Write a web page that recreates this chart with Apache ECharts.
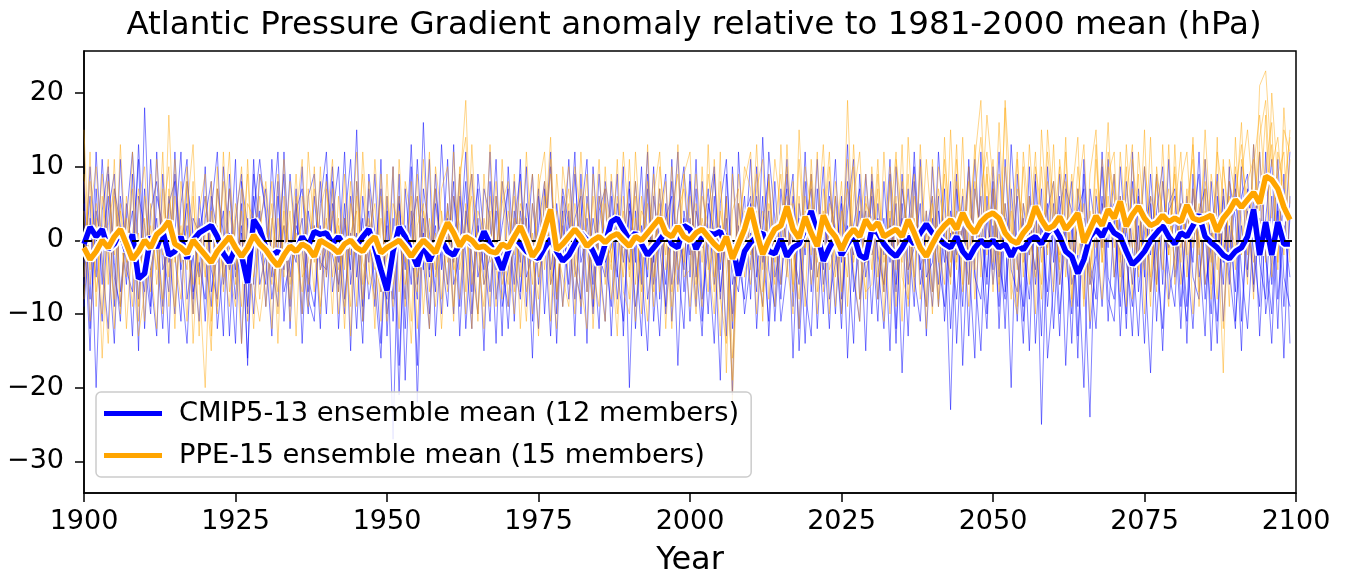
<!DOCTYPE html>
<html>
<head>
<meta charset="utf-8">
<script src="https://cdn.jsdelivr.net/npm/echarts@6/dist/echarts.min.js"></script>
<style>html,body{margin:0;padding:0;background:#fff}#c{width:1345px;height:577px}</style>
</head>
<body>
<div id="c"></div>
<script>
const START_YEAR = 1900;
const xTicks = [1900, 1925, 1950, 1975, 2000, 2025, 2050, 2075, 2100];
const yTicks = [-30, -20, -10, 0, 10, 20];

const cmipMean = [
-0.5,1.8,0.5,1.5,-1.2,-0.5,1.2,-1.5,0.8,-5.2,
-4.5,0.5,-1.0,1.2,-2.0,-1.5,0.5,-2.5,0.0,1.0,
1.5,2.0,0.5,-1.8,-3.0,-1.0,-2.0,-5.8,2.8,1.5,
-1.0,-2.0,-1.5,-2.5,-0.5,-1.5,0.5,-0.8,1.2,0.8,
1.0,-0.5,0.5,-0.8,0.2,-0.7,0.5,1.5,-1.0,-4.0,
-6.8,-1.5,1.8,0.5,-1.5,-3.5,-0.5,-2.8,-1.0,0.0,
-1.5,-2.0,-0.5,0.5,-0.5,-1.0,1.2,-0.5,-2.0,-4.0,
-1.5,0.5,-0.5,-1.5,-2.0,-2.5,-1.0,0.2,-1.5,-2.8,
-2.0,-0.5,1.0,0.0,-1.5,-3.3,-0.5,2.5,3.0,1.5,
0.0,1.0,-0.5,-2.0,-1.0,0.0,1.2,-0.5,-1.0,2.0,
1.5,-1.2,0.5,1.0,0.8,1.2,-1.0,-0.5,-4.8,-1.5,
-0.3,0.5,1.0,-1.5,-1.8,0.2,-2.2,-1.0,-0.5,1.5,
4.0,1.0,-2.8,-1.0,0.5,-2.0,-0.5,0.8,-2.0,-2.5,
1.5,1.0,-0.5,-1.5,-2.2,-1.0,0.5,-0.5,1.0,2.2,
1.0,0.3,-0.5,-1.0,0.5,-1.5,-2.5,-1.0,0.0,-0.8,
0.0,-1.0,-0.5,-2.2,-0.5,-1.3,0.0,0.5,-0.5,1.0,
1.9,0.5,-1.5,-2.2,-4.5,-2.6,0.5,1.5,0.5,2.3,
1.0,0.5,-1.5,-3.3,-2.5,-1.5,0.0,1.0,2.0,0.5,
-0.5,1.0,0.5,2.0,3.5,0.5,-0.3,-1.0,-2.0,-2.5,
-1.5,-1.0,0.5,4.2,-2.0,2.5,-2.0,2.5,-0.5,-0.5
];
const ppeMean = [
-1.0,-2.6,-1.5,0.0,-1.0,0.5,1.5,-0.5,-2.6,-1.5,
0.0,-1.0,0.8,1.5,2.6,-0.5,-1.0,-1.8,0.0,-1.0,
-2.0,-3.0,-1.5,-0.5,0.5,-1.0,-2.2,-1.0,0.7,-0.5,
-1.3,-2.5,-3.5,-2.0,-0.8,-1.5,-0.5,-1.0,-2.2,0.0,
-0.5,-1.0,-1.7,-0.5,0.0,-1.0,-1.5,-0.3,0.5,-1.7,
-1.0,-0.5,0.0,-1.0,-2.2,-1.0,0.0,-0.8,-1.7,0.5,
2.4,1.0,-0.8,0.5,0.0,-1.0,-0.8,-1.5,-1.7,-0.5,
-1.0,0.5,1.9,0.0,-2.2,-1.0,1.5,4.2,-1.3,-0.5,
0.5,1.5,0.5,-0.8,0.0,0.5,-0.3,0.5,0.9,0.0,
-0.8,0.5,0.0,1.0,2.0,3.0,1.0,0.5,1.9,0.5,
0.0,1.0,1.5,0.5,-0.5,-1.3,0.5,-2.5,-0.5,1.5,
4.4,1.0,-1.9,0.0,1.5,2.0,4.6,1.5,0.3,3.2,
1.0,-0.8,3.4,1.5,0.5,-1.3,0.5,1.5,0.5,2.8,
1.5,2.4,0.5,1.0,1.5,0.5,2.8,1.0,-1.0,-2.2,
-0.5,1.0,2.0,2.8,1.5,3.7,2.0,1.0,2.5,3.3,
3.7,3.0,1.0,0.0,-0.4,1.0,2.0,4.6,2.8,1.5,
2.0,3.2,1.5,2.5,3.7,-0.3,1.5,3.3,2.0,4.2,
3.0,5.3,1.9,3.5,4.6,3.0,2.0,2.4,3.4,2.5,
3.0,2.5,4.8,3.0,2.7,3.0,3.4,1.2,3.0,4.0,
5.5,4.5,5.5,6.5,5.0,8.7,8.2,7.0,4.5,2.8
];

const cmipMember1 = [
5,-8,12,-3,-12,7,2,-6,9,-15, 18,-4,3,-9,6,-2,-11,8,1,-5,
10,-7,-2,4,-13,3,9,-10,6,-1, -6,11,-3,2,-9,7,-14,4,-2,8,
-5,3,10,-8,1,-12,6,-3,9,-7, 2,-27,5,-4,13,-6,1,-10,7,-2,
-9,6,-1,12,-7,3,-15,8,-4,2, 7,-11,4,-2,9,-6,1,-13,5,-3,
11,-4,-8,6,-1,-12,8,2,-5,10, -20,4,-6,9,-3,7,-10,1,12,-7,
3,-9,8,-2,-14,5,11,-6,-1,6, -8,10,-3,4,-11,2,7,-16,5,-2,
9,-5,1,-12,6,-3,13,-7,-1,4, -10,5,-2,11,-6,3,-13,8,-4,1,
6,-9,2,-23,7,-1,10,-5,-8,3, -4,12,-7,1,-11,5,-2,9,-25,4,
8,-6,2,-14,7,-3,-24,6,-1,11, -5,3,-12,8,-2,10,-7,1,-15,5,
7,-9,4,-3,12,-6,-1,9,-11,2, -7,10,-4,6,-13,3,11,-8,2,-5
];
const cmipMember2 = [
-3,6,-20,4,10,-5,-9,3,12,-2, -7,11,-1,-12,5,8,-4,2,-10,6,
-2,-9,7,1,-4,11,-14,3,-6,9, 4,-5,8,-11,0,-3,10,-7,2,-12,
9,-2,-6,5,-15,8,-1,4,-9,11, -13,3,-21,7,-2,-8,16,-4,2,-10,
5,-3,9,-12,1,7,-6,-2,11,-9, -4,8,-7,3,-16,6,-1,10,-8,2,
-6,9,-3,1,-10,4,7,-13,3,-1, 8,-12,2,-5,10,-8,3,6,-17,4,
-2,7,-11,5,1,-19,9,-4,-7,3, 6,-12,2,9,-5,-1,11,-9,3,-14,
4,-2,10,-8,-3,6,-16,2,7,-5, 1,-11,8,-3,5,-18,2,10,-6,-1,
-9,4,-3,8,-14,2,-6,11,-2,-12, 7,-5,3,-20,9,-1,-8,4,-13,10,
-3,6,-17,2,-9,11,-4,-12,5,-1, 9,-13,2,-6,7,-3,-18,4,10,-8,
-2,5,-14,9,-5,1,-10,6,-3,8, 3,-15,7,-1,-9,12,-6,4,-16,6
];
const cmipMember3 = [
8,-12,4,-1,6,-9,11,-4,-7,13, -3,-10,6,2,-14,9,-1,5,-8,3,
-11,4,12,-6,1,-8,5,-17,9,2, 7,-3,-9,12,-5,2,-1,-10,6,-4,
-1,10,-7,3,-4,15,-11,2,-6,-16, 4,-8,9,-19,2,6,-4,11,-13,1,
-6,13,-9,4,-2,-10,7,3,-14,8, 2,-6,11,-9,5,-3,-1,12,-10,4,
-8,3,6,-14,10,-2,-5,8,-4,-11, 5,-1,-13,7,-6,3,9,-11,2,-4,
9,-5,2,-10,6,-8,3,-21,12,-3, 1,-7,14,-4,-9,7,-2,3,-12,8,
-4,11,-6,2,-10,5,-1,-14,9,-3, 6,-8,3,-15,10,-2,7,-5,-11,4,
-7,12,-1,-5,9,-17,3,-2,6,-10, 2,-9,11,-4,-7,3,-15,8,-1,5,
-12,4,9,-6,-2,-20,7,1,-9,3, 5,-2,-10,12,-7,1,6,-11,3,-4,
-9,8,-2,-12,4,7,-15,3,-6,10, -11,2,-5,13,-3,-8,6,-12,9,-14
];
const cmipMember4 = [
-9,3,-5,11,-2,-14,6,-1,4,-8, 7,-5,-13,9,-3,1,12,-8,-2,-11,
3,8,-12,-3,7,-5,1,-9,11,-6, -2,-13,6,-4,9,-1,3,-8,-11,5,
12,-7,-1,-10,6,-2,-14,9,1,-5, -8,10,-17,2,-6,11,-3,-12,5,-1,
3,-10,6,-2,-12,9,1,-7,4,-13, 10,-3,-8,5,-1,-12,7,-4,2,-9,
4,-13,9,-7,3,-2,-11,6,-8,1, -3,8,-4,-15,6,-1,-9,11,-6,3,
-11,4,-1,7,-6,2,-13,10,-3,-8, 5,-2,-9,12,3,-11,-4,6,-1,-7,
-13,7,-4,8,-1,-10,4,11,-8,-2, 8,-3,-12,2,-7,9,-4,-1,5,-13,
3,-6,7,-12,2,-9,11,-4,-15,6, -6,3,-12,7,-3,-9,10,-14,2,-7,
5,-10,1,8,-13,3,-6,-2,10,-8, -11,6,-3,-9,2,-14,5,-6,8,-1,
3,-12,6,-5,-8,11,-2,-11,4,-6, 7,-4,-12,2,8,-10,-3,11,-5,-9
];
const cmipMember5 = [
2,-15,7,-6,9,-3,-11,5,-2,11, -12,4,8,-1,-7,12,-5,-14,3,1,
6,-4,-8,10,-1,-14,8,2,-10,4, -9,2,12,-7,-3,5,-10,6,9,-3,
-4,8,-12,2,11,-5,3,-8,-2,7, -10,-3,6,-12,4,-17,7,1,-7,13,
-2,8,-13,3,9,-5,-1,-11,6,-4, -9,4,-3,10,-11,2,8,-6,-2,7,
2,-8,3,11,-9,6,-3,-1,9,-13, 7,-3,10,-8,-2,-13,5,-6,4,10,
-5,11,-8,-1,9,-4,6,-12,2,-10, -3,6,-1,-11,8,-6,3,9,-15,2,
7,-12,3,-2,11,-8,2,-5,-11,9, -2,3,-7,9,-12,5,-6,12,-3,-9,
10,-3,-9,4,-2,6,-13,7,1,-5, 8,-12,5,-2,6,-11,1,-4,7,-16,
-6,9,-2,-10,4,7,-12,-3,6,-11, 3,-9,8,-1,-13,4,-2,9,-6,11,
-5,2,-9,7,-1,-13,8,-2,6,-4, -12,6,9,-7,3,-2,-10,7,-1,12
];
const cmipMember6 = [
-6,10,-2,-11,4,9,-7,1,-13,6, 2,-9,12,-4,-1,-10,5,11,-7,-3,
-8,6,1,-13,9,-4,2,-16,4,11, 3,-8,-1,9,-12,4,7,-5,-9,2,
-10,5,-3,12,-6,1,-9,7,-2,-14, 6,-11,2,-8,10,-22,3,-5,9,-4,
11,-6,-2,8,-10,2,-4,12,-8,-1, -12,2,9,-5,-2,7,-10,4,-14,6,
-1,12,-10,3,-6,9,-2,-9,5,-3, 4,-9,-2,12,-11,1,-6,8,-3,-12,
8,-3,-13,4,10,-7,1,-10,5,-2, 11,-5,6,-13,2,-8,9,-1,-6,12,
-7,3,-10,6,1,-12,8,-2,4,-15, 9,-2,-6,3,-14,7,1,-9,11,-5,
-3,6,-11,1,-8,4,-2,-16,12,-6, 10,-3,-8,13,-1,-14,6,-6,3,-9,
2,-13,7,4,-16,9,-3,-8,12,-5, -8,10,-1,-13,6,-5,9,-2,-12,4,
6,-4,-11,3,9,-8,1,-14,7,-3, 9,-11,4,-6,12,-2,-14,5,-9,3
];

const ppeMember1 = [
15,-6,3,-10,8,-2,5,-12,1,7, -4,9,-1,-8,17,-3,2,-11,6,-5,
-20,4,-3,8,-7,2,10,-5,-1,6, -9,3,-2,11,-6,1,-10,7,-3,4,
8,-5,2,-12,5,-1,9,-4,-8,3, -3,10,-7,1,-11,6,-2,12,-5,0,
4,-9,7,19,-4,-10,3,-2,8,-6, -1,6,-12,3,9,-5,1,14,-8,2,
7,-3,-9,5,-1,11,-6,2,-10,4, -5,8,-2,-11,6,12,-4,1,-7,9,
3,-8,10,-4,-1,-13,6,-22,2,8, 12,-3,-9,5,1,-6,13,-2,-8,10,
4,-10,7,-1,6,-7,19,-3,2,9, -2,11,-6,4,-9,8,1,-5,10,-12,
6,-3,9,-1,13,-7,3,11,19,-2, 7,-4,18,-6,-10,5,1,12,-3,8,
2,10,-5,6,14,-8,4,-1,11,3, 9,-2,6,13,-5,4,-9,10,2,7,
-4,8,12,-1,5,-6,9,3,-18,11, 6,13,2,-3,21,23,10,14,4,15
];
const ppeMember2 = [
-8,4,10,-3,-14,6,1,-5,12,-9, 3,-7,11,-2,5,-12,8,-1,-6,4,
9,-11,2,-5,7,-1,-14,5,3,-8, 1,-6,9,-3,4,-13,6,2,-7,10,
-5,7,-10,3,-2,12,-8,1,5,-11, 6,-2,4,-9,8,-5,-1,-12,10,3,
-7,12,-4,2,6,-11,9,-3,-1,5, 8,-7,3,-1,-10,7,12,-6,4,-9,
-2,10,3,-7,6,-4,-11,9,1,-5, 11,-6,4,2,-9,7,-2,10,-4,-1,
-9,5,-3,9,2,-8,-14,4,7,-5, 3,9,-7,-2,11,4,-5,8,-1,6,
-6,2,13,-4,-1,8,-9,6,12,-3, 7,-5,2,-10,11,3,-4,9,-8,1,
-7,10,4,-5,8,2,-9,6,14,3, 11,-2,5,-8,7,3,-6,10,4,-1,
8,-4,12,-2,3,-9,9,15,-3,6, -5,12,1,7,-4,10,3,-7,13,-2,
9,-1,5,11,-7,4,-3,12,6,-9, 14,-2,8,11,4,17,-5,12,7,14
];
const ppeMember3 = [
4,-11,-2,9,-6,11,-9,3,-4,-13, -7,2,-4,12,-9,6,-3,10,-14,1,
-5,8,-9,1,12,-6,4,-11,-2,9, 6,-12,3,-5,8,-2,-7,12,1,-9,
-2,4,-7,9,-13,6,-3,-6,11,-1, -11,5,2,-6,-2,9,-10,3,-4,7,
10,-3,-8,5,-12,4,1,-9,6,-2, -6,9,-2,-11,5,-1,8,-3,-12,10,
3,-5,12,-2,-8,6,1,-4,11,-7, -10,3,-7,8,-1,5,-12,4,9,-3,
6,-2,-9,13,-5,4,-1,-11,9,2, -4,7,11,-8,2,9,-3,-10,15,-1,
8,-5,1,10,-9,3,7,-4,-11,5, 3,-8,12,-2,6,-11,14,-1,2,-9,
11,-1,-6,15,-3,7,-2,13,-5,9, -3,16,-1,4,-9,12,2,-5,10,-2,
13,-6,1,9,-2,5,-11,7,2,16, -1,6,-9,11,3,-4,14,-6,8,1,
4,12,-5,7,-2,15,1,-8,10,3, -1,9,15,5,12,-3,20,8,-2,11
];
const ppeMember4 = [
-2,8,-7,1,11,-12,4,-1,-9,5, 10,-5,1,-10,7,-2,-8,4,13,-6,
2,-13,7,-3,-9,5,-2,9,-6,-11, -4,8,-10,2,-1,9,-5,-3,7,-2,
3,-10,6,-4,8,-9,12,-1,-4,6, -7,1,-12,8,3,-7,11,-2,-9,4,
-3,6,2,-10,9,-1,-6,13,-4,-8, 4,-2,8,-7,1,-13,3,9,-1,-5,
-9,5,-1,9,-12,2,7,-8,-2,12, 2,-11,6,-4,9,-7,3,-9,13,-5,
-4,9,1,-7,11,-3,5,-16,-1,10, 7,-10,4,1,-6,13,-2,5,-12,4,
-2,12,-7,5,2,-10,11,-1,6,-8, 10,-1,-7,8,-4,13,-9,3,-2,11,
1,-9,14,-3,4,-6,10,-4,7,12, 3,-7,10,1,12,-3,6,-10,15,2,
-7,11,3,-4,10,1,-5,13,-3,9, 12,-7,5,-1,9,-10,6,3,-4,13,
-6,5,-2,14,-9,8,2,-4,11,-1, 10,3,-6,13,1,10,16,-4,18,5
];
const ppeMember5 = [
9,-4,5,-16,2,7,-10,6,-3,1, -11,5,-6,3,10,-9,1,-4,8,-13,
6,-2,-10,12,-4,-9,7,1,-12,3, -1,5,-14,6,-8,3,11,-6,2,-10,
7,-2,3,-9,1,4,-11,8,-3,-7, 9,-6,6,-1,-14,2,5,-7,1,-12,
2,-11,9,14,-6,1,-12,4,-9,11, -3,-10,5,2,-6,9,-4,11,-7,3,
10,-1,-6,-12,9,-3,5,-2,-13,6, -4,6,-10,13,-5,1,8,-7,-2,9,
12,-6,3,-2,-10,8,-4,-19,5,-1, -6,4,-11,9,-3,2,10,-7,6,-9,
11,-3,4,-10,8,1,-5,13,-2,-7, -6,9,-3,2,12,-5,-8,6,-1,4,
-10,7,2,-6,11,-1,8,-8,3,17, 8,-6,19,5,-4,10,-2,3,-8,12,
3,-2,8,-9,6,13,-4,2,-8,10, 6,-3,10,-8,12,2,-5,8,-2,-9,
13,-3,7,-10,2,11,-6,8,-1,6, -4,11,5,-8,14,19,3,9,12,-3
];
const ppeMember6 = [
-5,12,-9,6,-1,-8,13,-3,7,-11, 6,-3,-12,7,-5,11,-1,8,-10,2,
-4,-15,10,-7,4,-2,-9,11,-5,1, 8,-1,-7,4,-11,6,-2,-9,10,-4,
2,11,-4,-1,-9,8,-6,3,-12,9, -2,-9,11,-3,6,-12,4,-1,7,-8,
5,-4,10,-7,13,-3,-9,6,-2,8, -9,3,-5,12,-2,-8,6,-11,9,-1,
5,-10,7,1,-4,-9,10,-3,6,-2, -8,12,-1,5,-7,10,2,-12,4,7,
-1,-10,6,2,-7,12,-18,9,-3,4, -2,13,-4,8,-9,3,6,-6,11,-1,
9,-7,2,12,-5,4,-2,10,-8,6, -4,7,-11,10,1,-3,9,-7,13,-2,
5,-8,11,2,-4,14,-6,8,-1,10, -7,9,3,-2,11,-5,13,1,-6,15,
4,-3,14,-8,7,2,-6,11,-1,12, 6,-5,13,1,-3,15,-7,9,4,-2,
10,-6,3,13,-1,7,-8,14,-12,8, 4,16,-2,10,17,6,13,-3,15,12
];

const cmipMembers = [cmipMember1, cmipMember2, cmipMember3, cmipMember4, cmipMember5, cmipMember6];
const ppeMembers = [ppeMember1, ppeMember2, ppeMember3, ppeMember4, ppeMember5, ppeMember6];

const CMIP_NAME = 'CMIP5-13 ensemble mean (12 members)';
const PPE_NAME = 'PPE-15 ensemble mean (15 members)';
const FONT = 'DejaVu Sans';

function pts(arr) { return arr.map((v, i) => [START_YEAR + i, v]); }
function thin(arr, color, op, w, idx) {
  return {
    name: 'm' + idx, type: 'line', data: pts(arr), symbol: 'none', silent: true,
    lineStyle: { color: color, width: w, opacity: op }, z: 1, animation: false
  };
}

const series = [];
cmipMembers.forEach((a, i) => series.push(thin(a, '#0000ff', 0.55, 0.9, 'c' + i)));
ppeMembers.forEach((a, i) => series.push(thin(a, '#ffa500', 0.5, 0.9, 'p' + i)));
series.push({ name: 'cw', type: 'line', data: pts(cmipMean), symbol: 'none', silent: true,
  lineStyle: { color: '#ffffff', width: 9.5 }, z: 3, animation: false });
series.push({ name: CMIP_NAME, type: 'line', data: pts(cmipMean), symbol: 'none', silent: true, color: '#0000ff',
  lineStyle: { color: '#0000ff', width: 5.5 }, z: 4, animation: false });
series.push({ name: 'pw', type: 'line', data: pts(ppeMean), symbol: 'none', silent: true,
  lineStyle: { color: '#ffffff', width: 9.5 }, z: 5, animation: false });
series.push({ name: PPE_NAME, type: 'line', data: pts(ppeMean), symbol: 'none', silent: true, color: '#ffa500',
  lineStyle: { color: '#ffa500', width: 5.5 }, z: 6, animation: false });
series.push({ name: 'zero', type: 'line', data: [], z: 8, silent: true, animation: false,
  markLine: { symbol: 'none', silent: true, label: { show: false }, animation: false,
    lineStyle: { color: '#000', type: [8, 4], width: 2 }, data: [{ yAxis: 0 }] } });

const chart = echarts.init(document.getElementById('c'), null, { renderer: 'canvas' });
chart.setOption({
  backgroundColor: '#fff',
  animation: false,
  title: { text: 'Atlantic Pressure Gradient anomaly relative to 1981-2000 mean (hPa)', left: 689, top: 4,
    textAlign: 'center',
    textStyle: { fontFamily: FONT, fontSize: 32.5, fontWeight: 'normal', color: '#000' } },
  grid: { left: 84, right: 49, top: 51, bottom: 84, containLabel: false, outerBoundsMode: 'none',
    show: true, borderColor: '#000', borderWidth: 1.5, backgroundColor: 'transparent' },
  legend: {
    data: [{ name: CMIP_NAME, icon: 'rect' }, { name: PPE_NAME, icon: 'rect' }],
    orient: 'vertical', left: 96, top: 392, itemWidth: 58, itemHeight: 5, itemGap: 15,
    backgroundColor: 'rgba(255,255,255,0.85)', borderColor: '#cccccc', borderWidth: 1.5, borderRadius: 5,
    padding: [8, 12, 8, 8],
    textStyle: { fontFamily: FONT, fontSize: 27.3, color: '#000', padding: [0, 0, 0, 12] }
  },
  xAxis: {
    type: 'value', min: 1900, max: 2100, interval: 25,
    name: 'Year', nameLocation: 'middle', nameGap: 52,
    nameTextStyle: { fontFamily: FONT, fontSize: 32, color: '#000' },
    axisLine: { show: true, onZero: false, lineStyle: { color: '#000', width: 1.5 } },
    axisTick: { show: true, length: 9, lineStyle: { color: '#000', width: 1.5 } },
    axisLabel: { fontFamily: FONT, fontSize: 27, color: '#000', margin: 15,
      customValues: xTicks, formatter: v => String(v) },
    splitLine: { show: false }
  },
  yAxis: {
    type: 'value', min: -34.3, max: 25.7,
    axisLine: { show: true, onZero: false, lineStyle: { color: '#000', width: 1.5 } },
    axisTick: { show: true, length: 9, customValues: yTicks, lineStyle: { color: '#000', width: 1.5 } },
    axisLabel: { fontFamily: FONT, fontSize: 27, color: '#000', margin: 20,
      customValues: yTicks, formatter: v => String(v).replace('-', '\u2212') },
    splitLine: { show: false }
  },
  series: series
});
</script>
</body>
</html>
